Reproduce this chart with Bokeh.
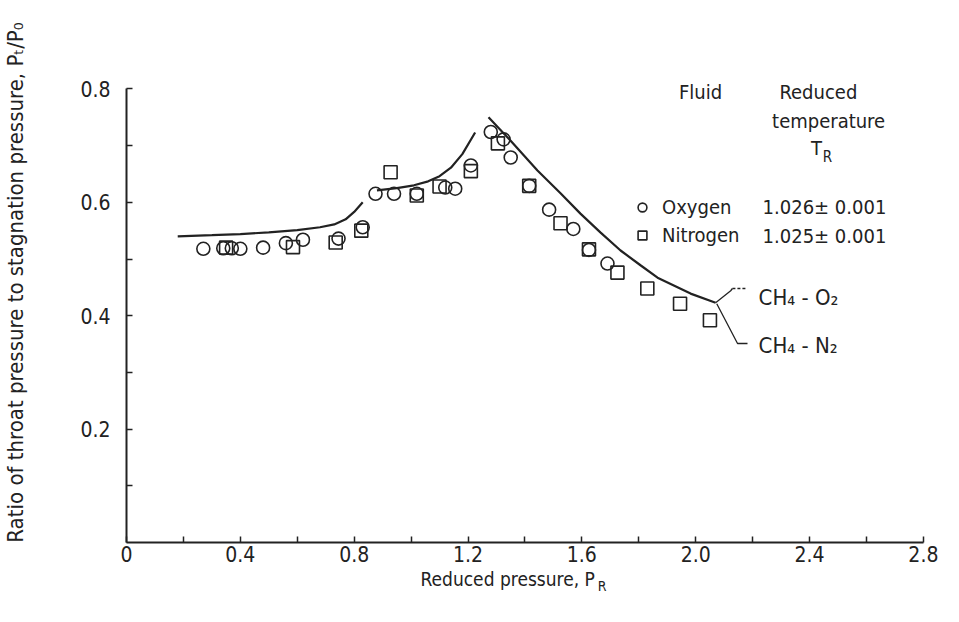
from bokeh.plotting import figure
from bokeh.models import (Range1d, FixedTicker, Label, Legend, LegendItem)
from bokeh.embed import file_html
from bokeh.resources import INLINE

# ---------------- data ----------------
oxygen_pr = [0.27, 0.34, 0.37, 0.40, 0.48, 0.56, 0.62, 0.745, 0.83, 0.875, 0.94,
             1.02, 1.12, 1.155, 1.21, 1.28, 1.325, 1.35, 1.415, 1.485, 1.57, 1.625, 1.69]
oxygen_ratio = [0.518, 0.519, 0.519, 0.518, 0.520, 0.528, 0.534, 0.536, 0.556, 0.615, 0.615,
                0.615, 0.626, 0.624, 0.665, 0.724, 0.711, 0.679, 0.629, 0.587, 0.553, 0.516, 0.492]

nitrogen_pr = [0.35, 0.585, 0.735, 0.825, 0.928, 1.02, 1.10, 1.21, 1.305, 1.415,
               1.525, 1.625, 1.725, 1.83, 1.945, 2.05]
nitrogen_ratio = [0.520, 0.521, 0.529, 0.550, 0.653, 0.612, 0.628, 0.655, 0.704, 0.629,
                  0.563, 0.517, 0.476, 0.448, 0.421, 0.392]

# theoretical CH4-O2 / CH4-N2 curves (three branches)
curve_low_pr = [0.18, 0.30, 0.40, 0.50, 0.60, 0.68, 0.73, 0.77, 0.80, 0.83]
curve_low_ratio = [0.540, 0.542, 0.544, 0.547, 0.551, 0.556, 0.561, 0.570, 0.583, 0.600]
curve_mid_pr = [0.88, 0.95, 1.01, 1.06, 1.10, 1.14, 1.18, 1.225]
curve_mid_ratio = [0.621, 0.625, 0.630, 0.637, 0.646, 0.661, 0.685, 0.723]
curve_high_pr = [1.272, 1.349, 1.444, 1.525, 1.595, 1.665, 1.736, 1.806, 1.866, 1.982, 2.07]
curve_high_ratio = [0.750, 0.709, 0.656, 0.616, 0.580, 0.547, 0.515, 0.489, 0.467, 0.439, 0.423]

x_ticks = [0, 0.4, 0.8, 1.2, 1.6, 2.0, 2.4, 2.8]
x_tick_labels = ["0", "0.4", "0.8", "1.2", "1.6", "2.0", "2.4", "2.8"]
x_minor = [0.2, 0.6, 1.0, 1.4, 1.8, 2.2, 2.6]
y_ticks = [0.2, 0.4, 0.6, 0.8]
y_tick_labels = ["0.2", "0.4", "0.6", "0.8"]
y_minor = [0.1, 0.3, 0.5, 0.7]

# ---------------- style ----------------
FONT = "DejaVu Sans Condensed"
INK = "#222222"
W, H = 945, 610

p = figure(width=W, height=H, output_backend="svg", toolbar_location=None,
           x_range=Range1d(-0.4427, 2.8777), y_range=Range1d(-0.1199, 0.9559),
           min_border=0, background_fill_color="white", border_fill_color="white")
p.outline_line_color = None
p.grid.visible = False

for ax in (p.xaxis[0], p.yaxis[0]):
    ax.fixed_location = 0
    ax.axis_line_color = INK
    ax.axis_line_width = 2
    ax.major_tick_line_color = INK
    ax.minor_tick_line_color = INK
    ax.major_tick_line_width = 1.5
    ax.minor_tick_line_width = 1.5
    ax.major_tick_in = 6
    ax.major_tick_out = 0
    ax.minor_tick_in = 6
    ax.minor_tick_out = 0
    ax.major_label_text_font = FONT
    ax.major_label_text_font_size = "21px"
    ax.major_label_text_color = INK

p.xaxis.bounds = (0, 2.8)
p.yaxis.bounds = (0, 0.8)
p.xaxis.ticker = FixedTicker(ticks=x_ticks, minor_ticks=x_minor)
p.xaxis.major_label_overrides = dict(zip(x_ticks, x_tick_labels))
p.xaxis.major_label_standoff = 3
p.yaxis.ticker = FixedTicker(ticks=y_ticks, minor_ticks=y_minor)
p.yaxis.major_label_overrides = dict(zip(y_ticks, y_tick_labels))
p.yaxis.major_label_standoff = 16

# curves
for cx, cy in ((curve_low_pr, curve_low_ratio), (curve_mid_pr, curve_mid_ratio),
               (curve_high_pr, curve_high_ratio)):
    p.line(cx, cy, line_color=INK, line_width=2.2)

# data points
r_o = p.scatter(oxygen_pr, oxygen_ratio, marker="circle", size=13,
                fill_color=None, line_color=INK, line_width=1.6)
r_n = p.scatter(nitrogen_pr, nitrogen_ratio, marker="square", size=13,
                fill_color=None, line_color=INK, line_width=1.6)

# leaders to curve labels, starting at the end of the curve
ex, ey = curve_high_pr[-1], curve_high_ratio[-1]
p.line([ex, ex + 0.053, ex + 0.059], [ey, ey + 0.021, ey + 0.025], line_color=INK, line_width=1.3)
p.line([ex + 0.059, ex + 0.105], [ey + 0.025, ey + 0.025], line_color=INK, line_width=1.3,
       line_dash="3 2")
p.line([ex + 0.004, ex + 0.077, ex + 0.112], [ey - 0.002, ey - 0.072, ey - 0.072],
       line_color=INK, line_width=1.3)


def txt(x, y, s, size="20px", align="left", angle=0.0, baseline="middle"):
    p.add_layout(Label(x=x, y=y, text=s, text_font=FONT, text_font_size=size,
                       text_color=INK, text_align=align, text_baseline=baseline,
                       angle=angle))


txt(2.221, 0.432, "CH₄ - O₂", size="22px")
txt(2.221, 0.347, "CH₄ - N₂", size="22px")

# legend header
txt(2.017, 0.794, "Fluid", align="center")
txt(2.431, 0.794, "Reduced", align="center")
txt(2.467, 0.744, "temperature", align="center")
txt(2.424, 0.695, "T", align="center")
txt(2.446, 0.680, "R", size="15px")
txt(2.235, 0.591, "1.026± 0.001")
txt(2.235, 0.541, "1.025± 0.001")

legend = Legend(items=[LegendItem(label="Oxygen", renderers=[r_o]),
                       LegendItem(label="Nitrogen", renderers=[r_n])],
                location=(631, 363), orientation="vertical",
                background_fill_alpha=0, border_line_color=None,
                padding=0, margin=0, spacing=4, glyph_width=22, glyph_height=22,
                label_height=22, label_standoff=9, label_text_font=FONT,
                label_text_font_size="20px", label_text_color=INK)
p.add_layout(legend)

# axis titles
txt(1.033, -0.0635, "Reduced pressure, P", size="19px")
txt(1.656, -0.076, "R", size="14px")
txt(-0.39, 0.4586, "Ratio of throat pressure to stagnation pressure, Pₜ/P₀", size="22px",
    align="center", angle=1.5708)

open("out.html", "w").write(file_html(p, INLINE))
